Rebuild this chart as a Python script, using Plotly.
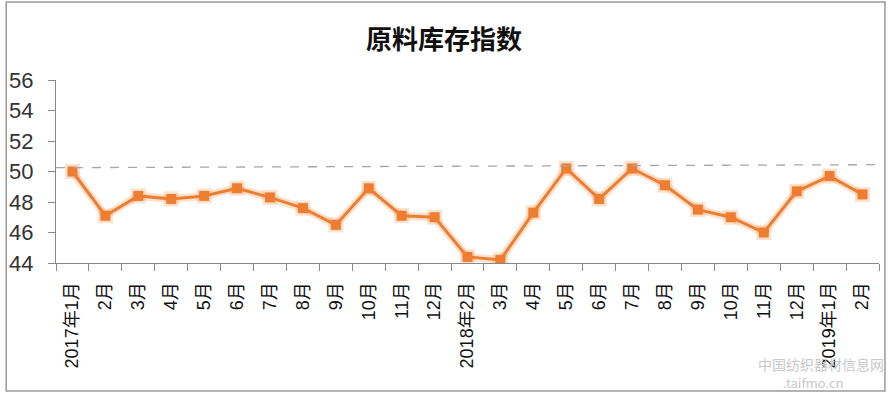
import plotly.graph_objects as go

title = "原料库存指数"
categories = ["2017年1月", "2月", "3月", "4月", "5月", "6月", "7月", "8月", "9月", "10月", "11月", "12月",
              "2018年2月", "3月", "4月", "5月", "6月", "7月", "8月", "9月", "10月", "11月", "12月",
              "2019年1月", "2月"]
values = [50.0, 47.1, 48.4, 48.2, 48.4, 48.9, 48.3, 47.6, 46.5, 48.9, 47.1, 47.0,
          44.4, 44.2, 47.3, 50.2, 48.2, 50.2, 49.1, 47.5, 47.0, 46.0, 48.7, 49.7, 48.5]
y_ticks = [44, 46, 48, 50, 52, 54, 56]
ref_line = [50.25, 50.45]  # dashed reference line (left, right)

W, H = 888, 394
ML, MR, MT, MB = 52, 9, 80, 131
pw, ph = W - ML - MR, H - MT - MB

orange = "#ED7D31"
n = len(categories)
xs = list(range(n))

fig = go.Figure()
# soft glow
fig.add_trace(go.Scatter(x=xs, y=values, mode="lines+markers",
                         line=dict(color="rgba(247,170,110,0.35)", width=8),
                         marker=dict(symbol="square", size=15, color="rgba(247,170,110,0.35)"),
                         hoverinfo="skip", showlegend=False))
fig.add_trace(go.Scatter(x=xs, y=values, mode="lines+markers",
                         line=dict(color=orange, width=3),
                         marker=dict(symbol="square", size=10, color=orange),
                         showlegend=False))

# dashed reference line
fig.add_shape(type="line", xref="paper", yref="y", x0=0, x1=(W - 5 - ML) / pw,
              y0=ref_line[0], y1=ref_line[1],
              line=dict(color="#A6A6A6", width=1.3, dash="dash"))

# outer frame
fig.add_shape(type="rect", xref="paper", yref="paper",
              x0=(2 - ML) / pw, x1=(885 - ML) / pw,
              y0=(MT + ph - 391) / ph, y1=(MT + ph - 2) / ph,
              line=dict(color="#9A9A9A", width=1.5), layer="below")

# watermark
fig.add_annotation(text="中国纺织器材信息网", xref="paper", yref="paper",
                   x=(886 - ML) / pw, y=(MT + ph - 364) / ph, xanchor="right", yanchor="middle",
                   showarrow=False, font=dict(size=14, color="#C8C8C8",
                                              family="Noto Sans CJK SC"))
fig.add_annotation(text=".taifmo.cn", xref="paper", yref="paper",
                   x=(845 - ML) / pw, y=(MT + ph - 382) / ph, xanchor="right", yanchor="middle",
                   showarrow=False, font=dict(size=13, color="#C8C8C8",
                                              family="Noto Sans CJK SC"))

fig.update_layout(
    width=W, height=H,
    margin=dict(l=ML, r=MR, t=MT, b=MB),
    paper_bgcolor="white", plot_bgcolor="white",
    title=dict(text="<b>" + title + "</b>", x=0.5, xanchor="center", y=1 - 40 / H,
               yanchor="middle", yref="container",
               font=dict(size=26, color="#111111", family="Noto Sans CJK SC")),
    xaxis=dict(tickmode="array", tickvals=xs, ticktext=categories, tickangle=-90,
               ticks="", showline=True, linecolor="#888888", linewidth=1.3,
               showgrid=False, zeroline=False, ticklabelstandoff=11,
               minor=dict(tickmode="array", tickvals=[i - 0.5 for i in range(n + 1)],
                          ticks="outside", ticklen=7, tickcolor="#888888", showgrid=False),
               tickfont=dict(size=18, color="#111111", family="Liberation Sans, Noto Sans CJK SC"),
               range=[-0.5, n - 0.5], fixedrange=True),
    yaxis=dict(range=[44, 56], tickvals=y_ticks, ticks="outside", ticklen=7,
               tickcolor="#888888", showline=True, linecolor="#888888", linewidth=1.3,
               showgrid=False, zeroline=False, ticklabelstandoff=10,
               tickfont=dict(size=22, color="#333333", family="Liberation Sans")),
)

fig.write_html("out.html")
